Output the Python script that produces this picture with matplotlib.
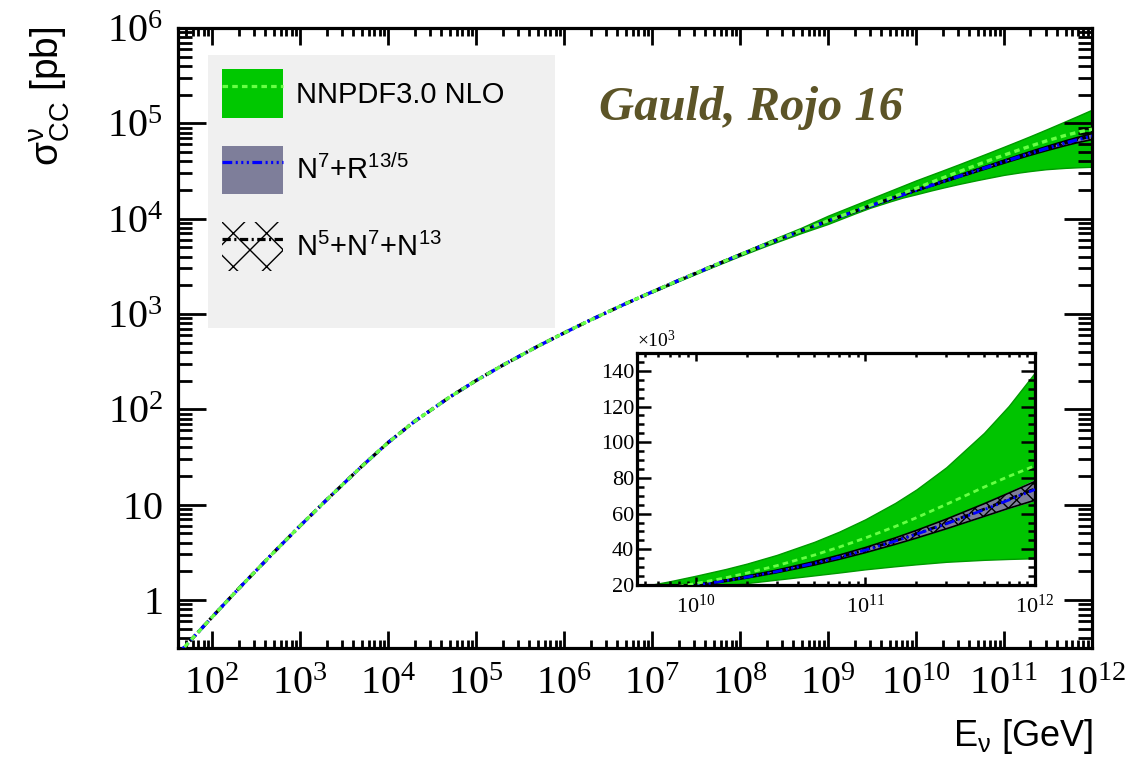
import numpy as np
import matplotlib
matplotlib.use("Agg")
import matplotlib.pyplot as plt
from matplotlib.patches import Patch, Rectangle
from matplotlib.lines import Line2D
from matplotlib.ticker import FuncFormatter, LogLocator, NullFormatter, MultipleLocator

# neutrino energy grid [GeV]
energy = [41, 1e2, 2e2, 5e2, 1e3, 2e3, 5e3, 1e4, 2e4, 5e4, 1e5, 2e5, 5e5,
          1e6, 2e6, 5e6, 1e7, 2e7, 5e7, 1e8, 2e8, 5e8, 1e9, 2e9, 3e9, 5e9, 7e9,
          1e10, 1.5e10, 2e10, 3e10, 5e10, 7e10, 1e11, 1.5e11, 2e11, 3e11, 5e11, 7e11, 1e12]

# central cross sections [pb]
nnpdf_central = [0.271, 0.66, 1.31, 3.14, 5.98, 11.2, 25.1, 44.7, 74.6, 134, 200, 289, 457,
                 632, 864, 1281, 1701, 2246, 3212, 4185, 5415, 7500, 9506, 12030, 13810,
                 16430, 18420, 20800, 24060, 26690, 30820, 36770, 41210, 46370, 52790,
                 57720, 65180, 74820, 80850, 86830]
n7r_central = [0.271, 0.66, 1.31, 3.14, 5.98, 11.2, 25.1, 44.7, 74.6, 134, 200, 289, 457,
               632, 864, 1281, 1701, 2245, 3209, 4176, 5397, 7470, 9456, 11885, 13560,
               15965, 17755, 19830, 22390, 24410, 27560, 32130, 35530, 39560, 44590,
               48470, 54290, 62170, 67610, 73530]
n5713_central = [0.271, 0.66, 1.31, 3.14, 5.98, 11.2, 25.1, 44.7, 74.6, 134, 200, 289, 457,
                 632, 864, 1281, 1701, 2245, 3210, 4178, 5400, 7476, 9465, 11900, 13580,
                 15990, 17790, 19870, 22440, 24470, 27640, 32230, 35650, 39700, 44760,
                 48670, 54540, 62480, 67980, 73950]

# uncertainty bands, only above 1e7 GeV where they are wider than the lines
band_energy = energy[16:]
nnpdf_low = [1680, 2210, 3140, 4060, 5200, 7080, 8800, 11300, 13000, 15100, 16600,
             18000, 19800, 21100, 23000, 25400, 27000, 28800, 30500, 31600, 33000,
             34100, 34600, 35000]
nnpdf_high = [1725, 2290, 3310, 4350, 5700, 8050, 10740, 13880, 16130, 19480, 22060,
              25180, 28960, 31980, 36850, 44200, 49880, 56830, 66010, 73540, 85980,
              105200, 120300, 139050]
n7r_low = [1697, 2239, 3198, 4158, 5370, 7420, 9340, 11720, 13360, 15690, 17440,
           19430, 21900, 23820, 26820, 31100, 34250, 37980, 42540, 46000, 51140,
           57940, 62470, 66910]
n7r_high = [1705, 2251, 3220, 4194, 5424, 7520, 9570, 12050, 13760, 16240, 18070,
            20230, 22880, 25000, 28300, 33130, 36740, 41020, 46460, 50700, 57060,
            65780, 71940, 78820]
n5713_low = [1698, 2240, 3200, 4160, 5373, 7425, 9350, 11730, 13380, 15710, 17470,
             19470, 21950, 23880, 26900, 31200, 34380, 38150, 42800, 46300, 51500,
             58400, 63000, 67500]
n5713_high = [1704, 2250, 3218, 4192, 5421, 7515, 9560, 12040, 13750, 16230, 18060,
              20230, 22890, 25020, 28330, 33150, 36760, 41000, 46400, 50600, 56900,
              65500, 71500, 78000]

x_ticks = [1e2, 1e3, 1e4, 1e5, 1e6, 1e7, 1e8, 1e9, 1e10, 1e11, 1e12]
y_ticks = [1, 10, 1e2, 1e3, 1e4, 1e5, 1e6]
inset_x_ticks = [1e10, 1e11, 1e12]

legend_labels = ["NNPDF3.0 NLO",
                 r"N$\mathregular{^{7}}$+R$\mathregular{^{13/5}}$",
                 r"N$\mathregular{^{5}}$+N$\mathregular{^{7}}$+N$\mathregular{^{13}}$"]

GREEN_FILL = "#00c400"
GREEN_EDGE = "#009a00"
GREEN_LINE = "#66ff44"
GREY_FILL = "#7e7e9a"
BLUE = "#0000ff"
TEXT_COL = "#5c5427"

GREEN_DASH = (0, (4, 3))
BLUE_DASH = (0, (7, 2.5, 1.5, 2.5, 1.5, 2.5, 1.5, 2.5))
BLACK_DASH = (0, (6, 2.5, 1.5, 2.5))

plt.rcParams["lines.scale_dashes"] = False
plt.rcParams["hatch.linewidth"] = 1.0

W, H = 1146, 759


def pow_label(v, pos):
    if v <= 0:
        return ""
    n = int(round(np.log10(v)))
    if n == 0:
        return r"$\mathregular{1}$"
    if n == 1:
        return r"$\mathregular{10}$"
    return r"$\mathregular{10^{%d}}$" % n


def draw_curves(ax, lw):
    ax.fill_between(band_energy, nnpdf_low, nnpdf_high, facecolor=GREEN_FILL,
                    edgecolor=GREEN_EDGE, linewidth=1.0, zorder=1)
    ax.fill_between(band_energy, n7r_low, n7r_high, facecolor=GREY_FILL,
                    linewidth=0, zorder=2)
    ax.fill_between(band_energy, n5713_low, n5713_high, facecolor="none",
                    edgecolor="black", hatch="xx", linewidth=0, zorder=3)
    ax.plot(band_energy, n5713_low, color="black", lw=1.2, zorder=3)
    ax.plot(band_energy, n5713_high, color="black", lw=1.2, zorder=3)
    ax.plot(energy, n5713_central, color="black", lw=lw, ls=BLACK_DASH, zorder=4)
    ax.plot(energy, n7r_central, color=BLUE, lw=lw, ls=BLUE_DASH, zorder=5)
    ax.plot(energy, nnpdf_central, color=GREEN_LINE, lw=lw, ls=GREEN_DASH, zorder=6)


fig = plt.figure(figsize=(W / 100, H / 100), dpi=100)
ax = fig.add_axes([178 / W, 1 - 648 / H, (1092 - 178) / W, (648 - 28) / H])

draw_curves(ax, 2.4)

ax.set_xscale("log")
ax.set_yscale("log")
ax.set_xlim(41, 1e12)
ax.set_ylim(0.313, 1.0e6)

ax.set_xticks(x_ticks)
ax.set_yticks(y_ticks)
ax.xaxis.set_minor_locator(LogLocator(base=10, subs=np.arange(2, 10), numticks=40))
ax.yaxis.set_minor_locator(LogLocator(base=10, subs=np.arange(2, 10), numticks=40))
ax.xaxis.set_major_formatter(FuncFormatter(pow_label))
ax.yaxis.set_major_formatter(FuncFormatter(pow_label))
ax.xaxis.set_minor_formatter(NullFormatter())
ax.yaxis.set_minor_formatter(NullFormatter())

ax.tick_params(axis="both", which="both", direction="in", top=True, right=True,
               width=2.0, labelfontfamily="Liberation Serif", labelsize=29)
ax.tick_params(axis="x", which="major", length=12.5, pad=13)
ax.tick_params(axis="x", which="minor", length=6)
ax.tick_params(axis="y", which="major", length=20, pad=11)
ax.tick_params(axis="y", which="minor", length=10)
for s in ax.spines.values():
    s.set_linewidth(2.3)

# legend box
ax.add_patch(Rectangle((208 / W, 1 - 328 / H), (555 - 208) / W, (328 - 55) / H,
                       transform=fig.transFigure, facecolor="#f0f0f0",
                       edgecolor="none", zorder=7))

handles = [
    (Patch(facecolor="#00c800", edgecolor="none"),
     Line2D([], [], color=GREEN_LINE, lw=2.3, ls=GREEN_DASH)),
    (Patch(facecolor=GREY_FILL, edgecolor="none"),
     Line2D([], [], color=BLUE, lw=2.3, ls=BLUE_DASH)),
    (Patch(facecolor="none", edgecolor="black", hatch="x", linewidth=0),
     Line2D([], [], color="black", lw=2.3, ls=BLACK_DASH)),
]
leg = ax.legend(handles, legend_labels, loc="upper left",
                bbox_to_anchor=(222 / W, 1 - 69 / H), bbox_transform=fig.transFigure,
                frameon=False, borderpad=0, borderaxespad=0,
                handlelength=2.1, handleheight=2.2, handletextpad=0.45,
                labelspacing=0.95, prop={"family": "Liberation Sans", "size": 21})
leg.set_zorder(8)

fig.text(751 / W, 1 - 120 / H, "Gauld, Rojo 16", fontsize=35,
         fontfamily="Liberation Serif", fontweight="bold", fontstyle="italic",
         color=TEXT_COL, ha="center", va="baseline")

fig.text(50 / W, 1 - 26 / H, r"$\mathregular{σ^{ν}_{CC}}$ [pb]", rotation=90,
         fontfamily="Liberation Sans", fontsize=28, ha="center", va="top")
fig.text(1093 / W, 1 - 756 / H, r"E$\mathregular{_{ν}}$ [GeV]",
         fontfamily="Liberation Sans", fontsize=26, ha="right", va="bottom")

# inset zoom on the high-energy region
inset = fig.add_axes([637 / W, 1 - 585 / H, (1035 - 637) / W, (585 - 353) / H])
inset.set_zorder(10)
draw_curves(inset, 2.0)
inset.set_xscale("log")
inset.set_xlim(4.5e9, 1e12)
inset.set_ylim(20000, 150000)
inset.set_xticks(inset_x_ticks)
inset.xaxis.set_minor_locator(LogLocator(base=10, subs=np.arange(2, 10), numticks=20))
inset.xaxis.set_major_formatter(FuncFormatter(pow_label))
inset.xaxis.set_minor_formatter(NullFormatter())
inset.yaxis.set_major_locator(MultipleLocator(20000))
inset.yaxis.set_minor_locator(MultipleLocator(5000))
inset.yaxis.set_major_formatter(FuncFormatter(lambda v, p: "%d" % round(v / 1000)))
inset.tick_params(axis="both", which="both", direction="in", top=True, right=True,
                  width=1.8, labelfontfamily="Liberation Serif", labelsize=16)
inset.tick_params(axis="x", which="major", length=6, pad=7)
inset.tick_params(axis="x", which="minor", length=3)
inset.tick_params(axis="y", which="major", length=10, pad=2)
inset.tick_params(axis="y", which="minor", length=5)
for s in inset.spines.values():
    s.set_linewidth(2.3)
inset.text(0, 1.01, "×10$\\mathregular{^{3}}$", transform=inset.transAxes,
           ha="left", va="bottom", fontfamily="Liberation Serif", fontsize=14)

fig.savefig("out.png", dpi=100)
